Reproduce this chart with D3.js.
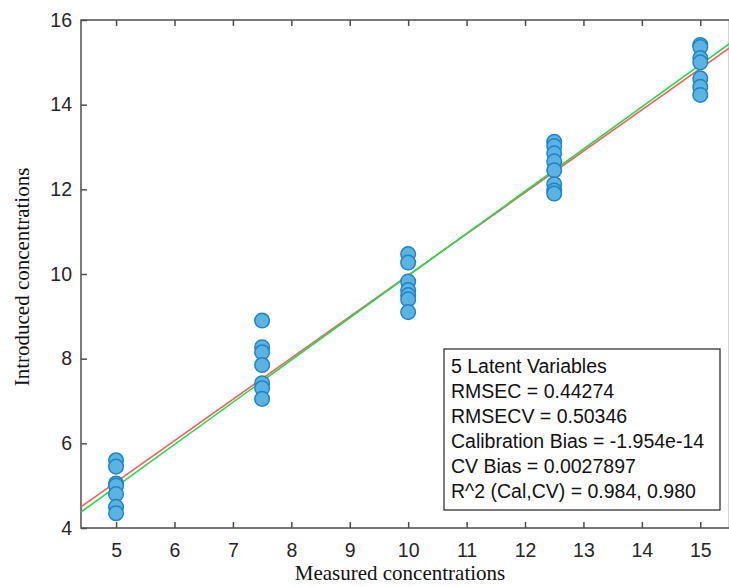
<!DOCTYPE html>
<html><head><meta charset="utf-8">
<script src="https://cdn.jsdelivr.net/npm/d3@7"></script>
<style>body{margin:0;background:#fff}svg{display:block}</style>
</head><body><svg id="c" width="729" height="587"></svg>
<script>
const measuredLevels = [5, 7.5, 10, 12.5, 15];
const introduced5 = [5.6, 5.45, 5.05, 5.0, 4.8, 4.5, 4.35];
const introduced7_5 = [8.9, 8.27, 8.15, 7.85, 7.42, 7.3, 7.05];
const introduced10 = [10.47, 10.27, 9.82, 9.62, 9.5, 9.4, 9.1];
const introduced12_5 = [13.12, 13.02, 12.85, 12.66, 12.45, 12.12, 11.97, 11.9];
const introduced15 = [15.41, 15.36, 15.1, 15.0, 14.62, 14.42, 14.23];
const fitLine = {slope: 0.977, intercept: 0.2};      // red
const refLine = {slope: 0.997, intercept: -0.01};    // green
const xTicks = [5,6,7,8,9,10,11,12,13,14,15];
const yTicks = [4,6,8,10,12,14,16];
const legendLines = ["5 Latent Variables","RMSEC = 0.44274","RMSECV = 0.50346","Calibration Bias = -1.954e-14","CV Bias = 0.0027897","R^2 (Cal,CV) = 0.984, 0.980"];
const xTitle = "Measured concentrations";
const yTitle = "Introduced concentrations";

const groups = [introduced5, introduced7_5, introduced10, introduced12_5, introduced15];
const points = [];
groups.forEach((g,i)=>g.forEach(v=>points.push({x:measuredLevels[i], y:v})));

const svg = d3.select("#c");
const L=81, R=729.5, T=20, B=528;
const x = d3.scaleLinear().domain([4.4,15.5]).range([L,R]);
const y = d3.scaleLinear().domain([4,16]).range([B,T]);
const axisCol = "#4d4d4d", textCol = "#262626";

svg.append("rect").attr("x",L).attr("y",T).attr("width",R-L).attr("height",B-T)
  .attr("fill","none").attr("stroke",axisCol).attr("stroke-width",1.5);

const gx = svg.append("g").attr("transform",`translate(0,${B})`)
  .call(d3.axisBottom(x).tickValues(xTicks).tickSize(-6).tickPadding(15).tickFormat(d3.format("d")));
const gxt = svg.append("g").attr("transform",`translate(0,${T})`)
  .call(d3.axisTop(x).tickValues(xTicks).tickSize(-6).tickFormat(""));
const gy = svg.append("g").attr("transform",`translate(${L},0)`)
  .call(d3.axisLeft(y).tickValues(yTicks).tickSize(-6).tickPadding(9).tickFormat(d3.format("d")));
[gx,gxt,gy].forEach(g=>{
  g.select(".domain").remove();
  g.selectAll(".tick line").attr("stroke",axisCol).attr("stroke-width",1.5);
  g.selectAll(".tick text").attr("fill",textCol).style("font-family","Liberation Sans, Arial, sans-serif").style("font-size","19.5px");
});

function drawLine(c, col){
  const xs=[4.4,15.5];
  svg.append("line").attr("x1",x(xs[0])).attr("y1",y(c.intercept+c.slope*xs[0]))
    .attr("x2",x(xs[1])).attr("y2",y(c.intercept+c.slope*xs[1]))
    .attr("stroke",col).attr("stroke-width",1.6);
}
drawLine(fitLine,"#ff5a5a");
drawLine(refLine,"#19e04a");

svg.append("g").selectAll("circle").data(points).join("circle")
  .attr("cx",d=>x(d.x)).attr("cy",d=>y(d.y)).attr("r",7.3)
  .attr("fill","#5ab3e3").attr("stroke","#1f84c6").attr("stroke-width",1.5);

svg.append("rect").attr("x",444).attr("y",349).attr("width",276).attr("height",161)
  .attr("fill","#fff").attr("stroke","#333").attr("stroke-width",1.3);
svg.append("g").selectAll("text").data(legendLines).join("text")
  .attr("x",451).attr("y",(d,i)=>373+i*25)
  .attr("fill","#111").style("font-family","Liberation Sans, Arial, sans-serif").style("font-size","19.5px")
  .text(d=>d);

svg.append("text").attr("x",400).attr("y",580).attr("text-anchor","middle")
  .style("font-family","Liberation Serif, Times New Roman, serif").style("font-size","21px").attr("fill","#111").text(xTitle);
svg.append("text").attr("transform",`translate(29,277) rotate(-90)`).attr("text-anchor","middle")
  .style("font-family","Liberation Serif, Times New Roman, serif").style("font-size","21px").attr("fill","#111").text(yTitle);
</script></body></html>
